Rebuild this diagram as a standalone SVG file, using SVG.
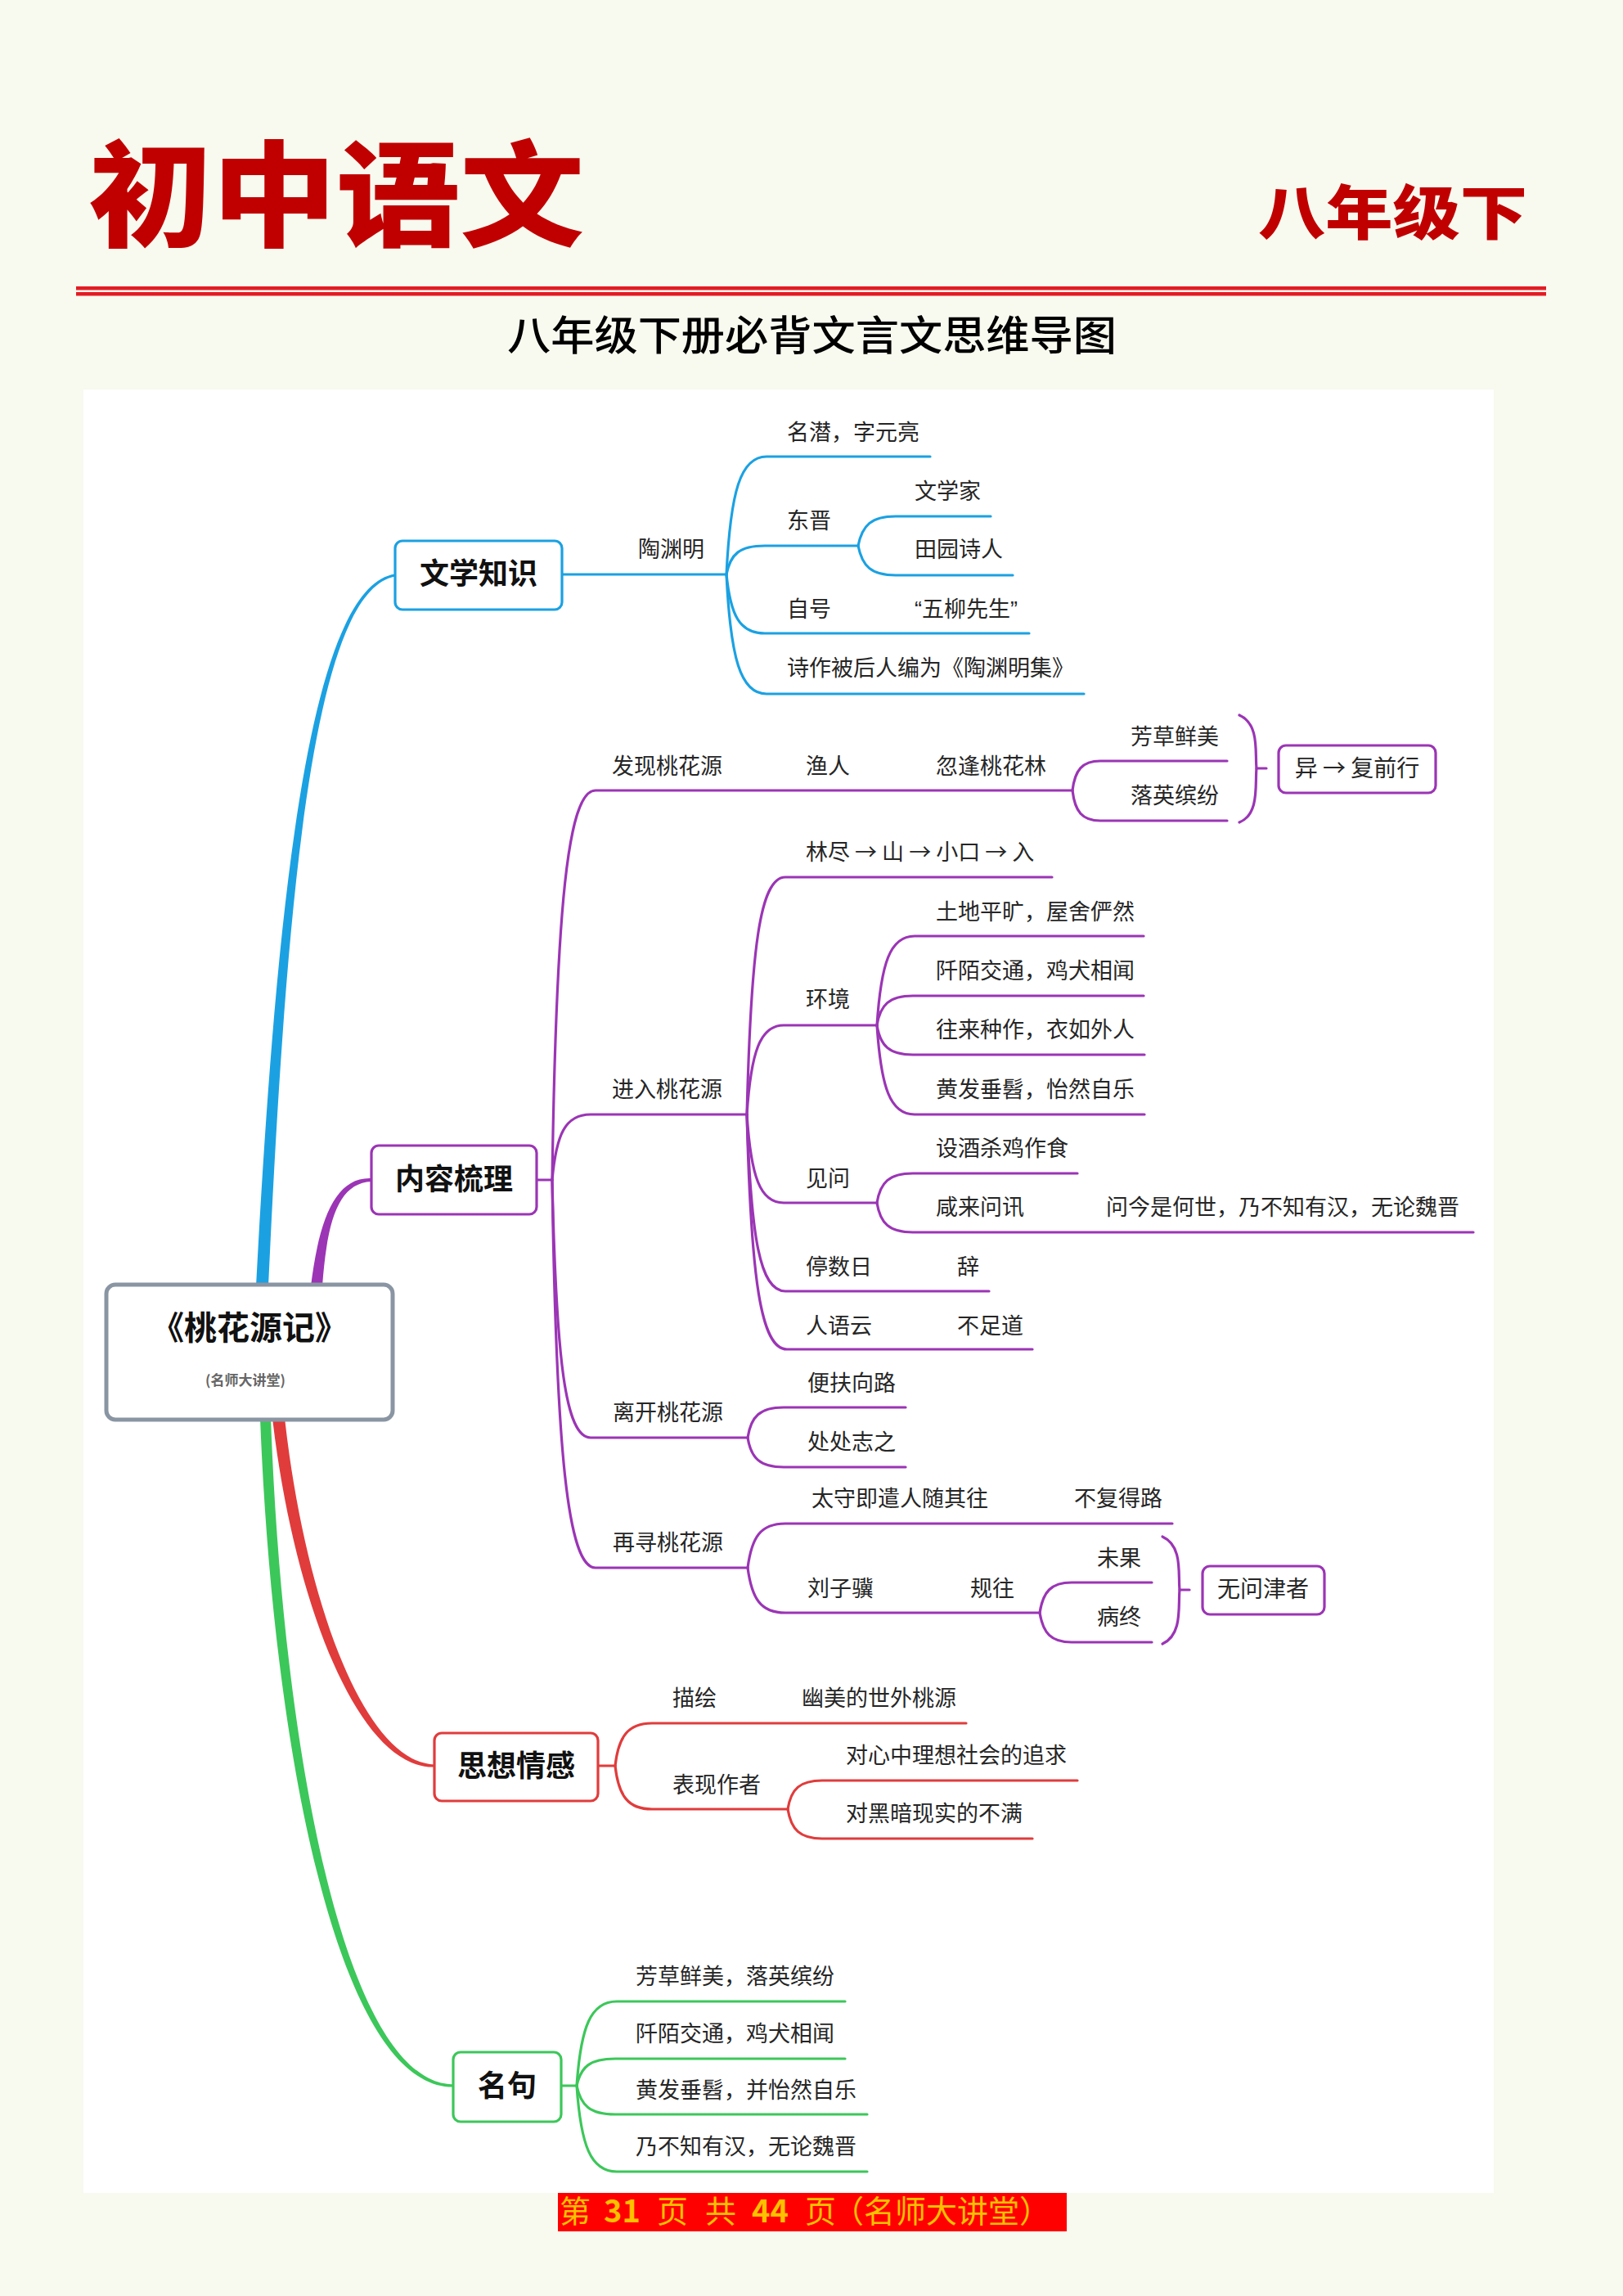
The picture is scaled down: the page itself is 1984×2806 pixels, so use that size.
<svg xmlns="http://www.w3.org/2000/svg" width="1984" height="2806" viewBox="0 0 1984 2806">
<style>
.t{font-family:"Noto Sans CJK SC","Noto Sans CJK JP",sans-serif;font-size:27px;fill:#262626}
.nb{font-family:"Noto Sans CJK SC","Noto Sans CJK JP",sans-serif;font-weight:700;font-size:36px;fill:#111;text-anchor:middle}
.ns{font-family:"Noto Sans CJK SC","Noto Sans CJK JP",sans-serif;font-size:28px;fill:#262626;text-anchor:middle}
.l{fill:none;stroke-width:3.2;stroke-linecap:round}
.b{stroke:#1BA1E2}.p{stroke:#9B35B5}.r{stroke:#E03C3C}.g{stroke:#3CC75A}
.box{fill:#fff;stroke-width:3.2}
</style>
<rect x="0" y="0" width="1984" height="2806" fill="#F8F9EF"/>
<rect x="102" y="476" width="1724" height="2204" fill="#FFFFFF"/>
<g id="header">
<text x="108" y="290" textLength="606" lengthAdjust="spacingAndGlyphs" style="font-family:'Noto Sans CJK SC',sans-serif;font-weight:900;font-size:140px;fill:#C00000">初中语文</text>
<text x="1538" y="286" textLength="329" lengthAdjust="spacingAndGlyphs" style="font-family:'Noto Sans CJK SC',sans-serif;font-weight:900;font-size:72px;fill:#C00000">八年级下</text>
<rect x="93" y="350" width="1797" height="4.5" fill="#E31B23"/>
<rect x="93" y="357" width="1797" height="4.5" fill="#E31B23"/>
<text x="620" y="428" textLength="745" lengthAdjust="spacingAndGlyphs" style="font-family:'Noto Sans CJK SC',sans-serif;font-weight:500;font-size:50px;fill:#000">八年级下册必背文言文思维导图</text>
</g>
<g id="connectors">
<path fill="#1BA1E2" d="M313 1572 C338 1100 378 717 483 701.5 L483 704.5 C382 723 350 1100 328 1572 Z"/>
<path fill="#9B35B5" d="M380 1572 C390 1490 410 1438 454 1440 L454 1444 C414 1446 400 1490 394 1572 Z"/>
<path fill="#E03C3C" d="M333 1733 C358 1950 436 2162 531 2159.6 L531 2156.4 C444 2154 372 1950 348 1733 Z"/>
<path fill="#3CC75A" d="M318 1733 C334 2150 416 2552 554 2550.6 L554 2547.4 C424 2546 346 2150 331 1733 Z"/>
<!-- blue -->
<path class="l b" d="M687 702 H888"/>
<path class="l b" d="M888 702 C893 601 905 558 937 558 H1137"/>
<path class="l b" d="M888 702 C893 677 904 667 935 667 H1049"/>
<path class="l b" d="M888 702 C893 752 904 774 935 774 H1258"/>
<path class="l b" d="M888 702 C893 804 905 848 937 848 H1325"/>
<path class="l b" d="M1049 667 C1054 642 1065 631 1095 631 H1211"/>
<path class="l b" d="M1049 667 C1054 692 1065 703 1095 703 H1238"/>
<!-- purple -->
<path class="l p" d="M656 1442 H675"/>
<path class="l p" d="M675 1442 C680 1109 694 966 728 966 H1311"/>
<path class="l p" d="M675 1442 C680 1386 691 1362 722 1362 H913"/>
<path class="l p" d="M675 1442 C680 1662 691 1757 722 1757 H914"/>
<path class="l p" d="M675 1442 C680 1774 694 1916 728 1916 H914"/>
<path class="l p" d="M1311 966 C1314 941 1323 930 1345 930 H1500"/>
<path class="l p" d="M1311 966 C1314 992 1323 1003 1345 1003 H1500"/>
<path class="l p" d="M1515 874 C1540 885 1534 920 1536 939 C1534 958 1540 995 1515 1005"/>
<path class="l p" d="M1536 939 H1548"/>
<path class="l p" d="M913 1362 C918 1159 929 1072 960 1072 H1286"/>
<path class="l p" d="M913 1362 C918 1286 929 1253 958 1253 H1072"/>
<path class="l p" d="M913 1362 C918 1438 929 1470 958 1470 H1072"/>
<path class="l p" d="M913 1362 C918 1513 929 1578 960 1578 H1209"/>
<path class="l p" d="M913 1362 C918 1563 930 1649 962 1649 H1262"/>
<path class="l p" d="M1072 1253 C1077 1177 1088 1144 1118 1144 H1398"/>
<path class="l p" d="M1072 1253 C1076 1228 1087 1217 1116 1217 H1398"/>
<path class="l p" d="M1072 1253 C1076 1278 1087 1289 1116 1289 H1399"/>
<path class="l p" d="M1072 1253 C1077 1329 1088 1362 1118 1362 H1399"/>
<path class="l p" d="M1072 1470 C1076 1445 1087 1434 1116 1434 H1317"/>
<path class="l p" d="M1072 1470 C1076 1495 1087 1506 1116 1506 H1801"/>
<path class="l p" d="M914 1757 C918 1731 929 1720 958 1720 H1107"/>
<path class="l p" d="M914 1757 C918 1782 929 1793 958 1793 H1107"/>
<path class="l p" d="M914 1916 C919 1878 930 1862 960 1862 H1433"/>
<path class="l p" d="M914 1916 C919 1954 930 1971 960 1971 H1271"/>
<path class="l p" d="M1271 1971 C1275 1945 1285 1934 1310 1934 H1408"/>
<path class="l p" d="M1271 1971 C1275 1996 1285 2007 1310 2007 H1408"/>
<path class="l p" d="M1421 1878 C1446 1889 1440 1924 1442 1943 C1440 1962 1446 1998 1421 2009"/>
<path class="l p" d="M1442 1943 H1454"/>
<!-- red -->
<path class="l r" d="M731 2158 H752"/>
<path class="l r" d="M752 2158 C756 2122 768 2106 797 2106 H1181"/>
<path class="l r" d="M752 2158 C756 2195 768 2211 797 2211 H963"/>
<path class="l r" d="M963 2211 C967 2186 978 2176 1005 2176 H1317"/>
<path class="l r" d="M963 2211 C967 2236 978 2247 1005 2247 H1262"/>
<!-- green -->
<path class="l g" d="M686 2549 H705"/>
<path class="l g" d="M705 2549 C710 2477 722 2446 754 2446 H1033"/>
<path class="l g" d="M705 2549 C710 2526 721 2516 752 2516 H1033"/>
<path class="l g" d="M705 2549 C710 2573 721 2584 752 2584 H1060"/>
<path class="l g" d="M705 2549 C710 2622 722 2654 754 2654 H1060"/>
</g>
<g id="root">
<rect x="130" y="1570" width="350" height="165" rx="11" fill="#fff" stroke="#8A95A3" stroke-width="5"/>
<text x="305" y="1637" style="font-family:'Noto Sans CJK SC',sans-serif;font-weight:700;font-size:40px;fill:#111;text-anchor:middle">《桃花源记》</text>
<text x="300" y="1693" style="font-family:'Noto Sans CJK SC',sans-serif;font-weight:700;font-size:17px;fill:#666;text-anchor:middle">(名师大讲堂)</text>
</g>
<g id="n-wenxue">
<rect class="box" x="483" y="661" width="204" height="84" rx="9" stroke="#1BA1E2"/>
<text class="nb" x="585" y="714">文学知识</text>
</g>
<g id="n-neirong">
<rect class="box" x="454" y="1400" width="202" height="84" rx="9" stroke="#9B35B5"/>
<text class="nb" x="555" y="1454">内容梳理</text>
</g>
<g id="n-sixiang">
<rect class="box" x="531" y="2118" width="200" height="83" rx="9" stroke="#E03C3C"/>
<text class="nb" x="631" y="2171">思想情感</text>
</g>
<g id="n-mingju">
<rect class="box" x="554" y="2508" width="132" height="85" rx="9" stroke="#3CC75A"/>
<text class="nb" x="620" y="2562">名句</text>
</g>
<g id="n-yi">
<rect class="box" x="1563" y="911" width="192" height="58" rx="9" stroke="#9B35B5"/>
<text class="ns" x="1659" y="949">异 → 复前行</text>
</g>
<g id="n-wuwen">
<rect class="box" x="1470" y="1914" width="149" height="59" rx="9" stroke="#9B35B5"/>
<text class="ns" x="1544" y="1952">无问津者</text>
</g>
<g id="labels">
<text class="t" x="780" y="681">陶渊明</text>
<text class="t" x="962" y="538">名潜，字元亮</text>
<text class="t" x="962" y="646">东晋</text>
<text class="t" x="1118" y="610">文学家</text>
<text class="t" x="1118" y="681">田园诗人</text>
<text class="t" x="962" y="754">自号</text>
<text class="t" x="1118" y="754" style="font-family:'Liberation Sans','Noto Sans CJK SC',sans-serif">“五柳先生”</text>
<text class="t" x="962" y="826">诗作被后人编为《陶渊明集》</text>
<text class="t" x="748" y="946">发现桃花源</text>
<text class="t" x="985" y="946">渔人</text>
<text class="t" x="1144" y="946">忽逢桃花林</text>
<text class="t" x="1382" y="910">芳草鲜美</text>
<text class="t" x="1382" y="982">落英缤纷</text>
<text class="t" x="985" y="1051">林尽 → 山 → 小口 → 入</text>
<text class="t" x="748" y="1341">进入桃花源</text>
<text class="t" x="985" y="1231">环境</text>
<text class="t" x="1144" y="1124">土地平旷，屋舍俨然</text>
<text class="t" x="1144" y="1196">阡陌交通，鸡犬相闻</text>
<text class="t" x="1144" y="1268">往来种作，衣如外人</text>
<text class="t" x="1144" y="1341">黄发垂髫，怡然自乐</text>
<text class="t" x="985" y="1450">见问</text>
<text class="t" x="1144" y="1413">设酒杀鸡作食</text>
<text class="t" x="1144" y="1485">咸来问讯</text>
<text class="t" x="1352" y="1485">问今是何世，乃不知有汉，无论魏晋</text>
<text class="t" x="985" y="1558">停数日</text>
<text class="t" x="1170" y="1558">辞</text>
<text class="t" x="985" y="1630">人语云</text>
<text class="t" x="1170" y="1630">不足道</text>
<text class="t" x="749" y="1736">离开桃花源</text>
<text class="t" x="987" y="1700">便扶向路</text>
<text class="t" x="987" y="1772">处处志之</text>
<text class="t" x="749" y="1895">再寻桃花源</text>
<text class="t" x="992" y="1841">太守即遣人随其往</text>
<text class="t" x="1313" y="1841">不复得路</text>
<text class="t" x="987" y="1951">刘子骥</text>
<text class="t" x="1186" y="1951">规往</text>
<text class="t" x="1341" y="1914">未果</text>
<text class="t" x="1341" y="1986">病终</text>
<text class="t" x="822" y="2085">描绘</text>
<text class="t" x="980" y="2085">幽美的世外桃源</text>
<text class="t" x="822" y="2191">表现作者</text>
<text class="t" x="1034" y="2155">对心中理想社会的追求</text>
<text class="t" x="1034" y="2226">对黑暗现实的不满</text>
<text class="t" x="777" y="2425">芳草鲜美，落英缤纷</text>
<text class="t" x="777" y="2495">阡陌交通，鸡犬相闻</text>
<text class="t" x="777" y="2564">黄发垂髫，并怡然自乐</text>
<text class="t" x="777" y="2633">乃不知有汉，无论魏晋</text>
</g>
<g id="footer">
<rect x="682" y="2680" width="622" height="47" fill="#FF0000"/>
<text y="2716" style="font-family:'Noto Sans CJK SC',sans-serif;font-size:38px;fill:#FFC000"><tspan x="684">第</tspan><tspan x="738" font-weight="700">31</tspan><tspan x="803">页</tspan><tspan x="862">共</tspan><tspan x="919" font-weight="700">44</tspan><tspan x="984">页</tspan><tspan x="1018">（名师大讲堂）</tspan></text>
</g>
</svg>
